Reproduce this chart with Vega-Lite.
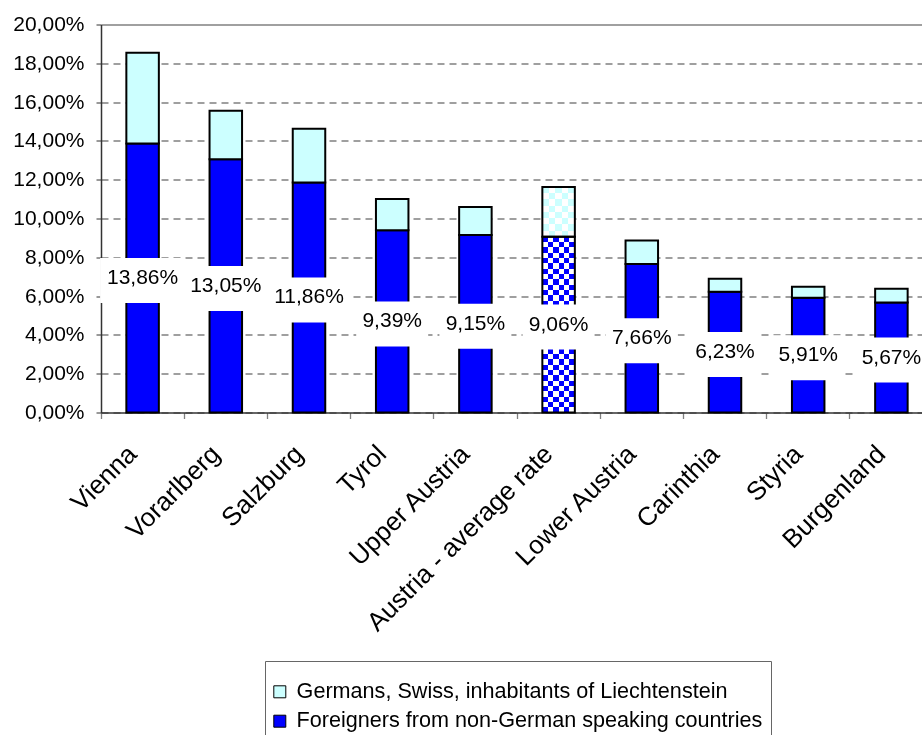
{
  "$schema": "https://vega.github.io/schema/vega-lite/v6.json",
  "width": 821,
  "height": 388,
  "autosize": "none",
  "padding": {"left": 101, "top": 24.5, "right": 0, "bottom": 322.5},
  "config": {
    "locale": {"number": {"decimal": ",", "thousands": ".", "grouping": [3], "currency": ["", " €"]}},
    "view": {"stroke": null},
    "font": "Liberation Sans"
  },
  "data": {
    "values": [
      {"region": "Vienna", "group": "Foreigners from non-German speaking countries", "value": 0.1386},
      {"region": "Vienna", "group": "Germans, Swiss, inhabitants of Liechtenstein", "value": 0.0469},
      {"region": "Vorarlberg", "group": "Foreigners from non-German speaking countries", "value": 0.1305},
      {"region": "Vorarlberg", "group": "Germans, Swiss, inhabitants of Liechtenstein", "value": 0.0251},
      {"region": "Salzburg", "group": "Foreigners from non-German speaking countries", "value": 0.1186},
      {"region": "Salzburg", "group": "Germans, Swiss, inhabitants of Liechtenstein", "value": 0.0277},
      {"region": "Tyrol", "group": "Foreigners from non-German speaking countries", "value": 0.0939},
      {"region": "Tyrol", "group": "Germans, Swiss, inhabitants of Liechtenstein", "value": 0.0161},
      {"region": "Upper Austria", "group": "Foreigners from non-German speaking countries", "value": 0.0915},
      {"region": "Upper Austria", "group": "Germans, Swiss, inhabitants of Liechtenstein", "value": 0.0144},
      {"region": "Austria - average rate", "group": "Foreigners from non-German speaking countries", "value": 0.0906},
      {"region": "Austria - average rate", "group": "Germans, Swiss, inhabitants of Liechtenstein", "value": 0.0256},
      {"region": "Lower Austria", "group": "Foreigners from non-German speaking countries", "value": 0.0766},
      {"region": "Lower Austria", "group": "Germans, Swiss, inhabitants of Liechtenstein", "value": 0.012},
      {"region": "Carinthia", "group": "Foreigners from non-German speaking countries", "value": 0.0623},
      {"region": "Carinthia", "group": "Germans, Swiss, inhabitants of Liechtenstein", "value": 0.0067},
      {"region": "Styria", "group": "Foreigners from non-German speaking countries", "value": 0.0591},
      {"region": "Styria", "group": "Germans, Swiss, inhabitants of Liechtenstein", "value": 0.0057},
      {"region": "Burgenland", "group": "Foreigners from non-German speaking countries", "value": 0.0567},
      {"region": "Burgenland", "group": "Germans, Swiss, inhabitants of Liechtenstein", "value": 0.0071}
    ]
  },
  "encoding": {
    "x": {
      "field": "region",
      "type": "nominal",
      "sort": null,
      "title": null,
      "scale": {
        "domain": ["Vienna", "Vorarlberg", "Salzburg", "Tyrol", "Upper Austria", "Austria - average rate", "Lower Austria", "Carinthia", "Styria", "Burgenland"],
        "range": [0, 832],
        "paddingInner": 0,
        "paddingOuter": 0
      },
      "axis": {
        "labelAngle": -45,
        "labelAlign": "right",
        "labelBaseline": "middle",
        "labelFontSize": 26,
        "labelFont": "Liberation Sans",
        "labelColor": "#000000",
        "labelPadding": 31,
        "labelOffset": -10,
        "labelOverlap": false,
        "labelLimit": 0,
        "tickSize": 6,
        "tickColor": "#808080",
        "tickWidth": 1.3,
        "bandPosition": 0,
        "domainColor": "#333333",
        "domainWidth": 1.5,
        "grid": false,
        "zindex": 0
      }
    }
  },
  "layer": [
    {
      "encoding": {
        "y": {
          "field": "value",
          "type": "quantitative",
          "stack": "zero",
          "title": null,
          "scale": {"domain": [0, 0.2], "nice": false},
          "axis": {
            "values": [0, 0.02, 0.04, 0.06, 0.08, 0.1, 0.12, 0.14, 0.16, 0.18, 0.2],
            "format": ".2%",
            "labelFontSize": 21,
            "labelFont": "Liberation Sans",
            "labelColor": "#000000",
            "labelPadding": 12,
            "tickSize": 5,
            "tickColor": "#333333",
            "domainColor": "#333333",
            "domainWidth": 1.5,
            "grid": true,
            "gridColor": "#808080",
            "gridWidth": 1.3,
            "gridDash": {"condition": {"test": "datum.value > 0.199", "value": []}, "value": [7, 5]},
            "zindex": 0
          }
        },
        "order": {"field": "group", "sort": "ascending"}
      },
      "layer": [
        {
          "transform": [{"filter": "datum.region !== 'Austria - average rate'"}],
          "mark": {"type": "bar", "width": 32.5, "stroke": "black", "strokeWidth": 2},
          "encoding": {
            "color": {
              "field": "group",
              "type": "nominal",
              "scale": {
                "domain": ["Germans, Swiss, inhabitants of Liechtenstein", "Foreigners from non-German speaking countries"],
                "range": ["#CCFFFF", "#0000FF"]
              },
              "legend": {
                "title": " ",
                "titleFontSize": 9,
                "titlePadding": 3,
                "orient": "none",
                "legendX": 164,
                "legendY": 636.5,
                "direction": "vertical",
                "padding": 8,
                "strokeColor": "#666666",
                "fillColor": "white",
                "symbolType": "square",
                "symbolSize": 144,
                "symbolOffset": -4,
                "symbolStrokeColor": "black",
                "symbolStrokeWidth": 1,
                "symbolOpacity": 1,
                "labelFontSize": 21.6,
                "labelFont": "Liberation Sans",
                "labelColor": "black",
                "labelOffset": 6,
                "labelLimit": 0,
                "rowPadding": 6.4
              }
            }
          }
        },
        {
          "transform": [{"filter": "datum.region === 'Austria - average rate'"}],
          "mark": {"type": "bar", "width": 32.5},
          "encoding": {
            "fill": {
              "condition": {
                "test": "datum.group === 'Germans, Swiss, inhabitants of Liechtenstein'",
                "value": {
                  "gradient": "linear", "x1": 0, "y1": 0, "x2": 0, "y2": 1,
                  "stops": [
                    {"offset": 0, "color": "#00ffff"}, {"offset": 0.125, "color": "#00ffff"},
                    {"offset": 0.125, "color": "#ffffff"}, {"offset": 0.25, "color": "#ffffff"},
                    {"offset": 0.25, "color": "#00ffff"}, {"offset": 0.375, "color": "#00ffff"},
                    {"offset": 0.375, "color": "#ffffff"}, {"offset": 0.5, "color": "#ffffff"},
                    {"offset": 0.5, "color": "#00ffff"}, {"offset": 0.625, "color": "#00ffff"},
                    {"offset": 0.625, "color": "#ffffff"}, {"offset": 0.75, "color": "#ffffff"},
                    {"offset": 0.75, "color": "#00ffff"}, {"offset": 0.875, "color": "#00ffff"},
                    {"offset": 0.875, "color": "#ffffff"}, {"offset": 1, "color": "#ffffff"}
                  ]
                }
              },
              "value": {
                "gradient": "linear", "x1": 0, "y1": 0, "x2": 0, "y2": 1,
                "stops": [
                  {"offset": 0, "color": "#0000ff"}, {"offset": 0.0303, "color": "#0000ff"},
                  {"offset": 0.0303, "color": "#ffffff"}, {"offset": 0.0606, "color": "#ffffff"},
                  {"offset": 0.0606, "color": "#0000ff"}, {"offset": 0.0909, "color": "#0000ff"},
                  {"offset": 0.0909, "color": "#ffffff"}, {"offset": 0.1212, "color": "#ffffff"},
                  {"offset": 0.1212, "color": "#0000ff"}, {"offset": 0.1515, "color": "#0000ff"},
                  {"offset": 0.1515, "color": "#ffffff"}, {"offset": 0.1818, "color": "#ffffff"},
                  {"offset": 0.1818, "color": "#0000ff"}, {"offset": 0.2121, "color": "#0000ff"},
                  {"offset": 0.2121, "color": "#ffffff"}, {"offset": 0.2424, "color": "#ffffff"},
                  {"offset": 0.2424, "color": "#0000ff"}, {"offset": 0.2727, "color": "#0000ff"},
                  {"offset": 0.2727, "color": "#ffffff"}, {"offset": 0.303, "color": "#ffffff"},
                  {"offset": 0.303, "color": "#0000ff"}, {"offset": 0.3333, "color": "#0000ff"},
                  {"offset": 0.3333, "color": "#ffffff"}, {"offset": 0.3636, "color": "#ffffff"},
                  {"offset": 0.3636, "color": "#0000ff"}, {"offset": 0.3939, "color": "#0000ff"},
                  {"offset": 0.3939, "color": "#ffffff"}, {"offset": 0.4242, "color": "#ffffff"},
                  {"offset": 0.4242, "color": "#0000ff"}, {"offset": 0.4545, "color": "#0000ff"},
                  {"offset": 0.4545, "color": "#ffffff"}, {"offset": 0.4848, "color": "#ffffff"},
                  {"offset": 0.4848, "color": "#0000ff"}, {"offset": 0.5152, "color": "#0000ff"},
                  {"offset": 0.5152, "color": "#ffffff"}, {"offset": 0.5455, "color": "#ffffff"},
                  {"offset": 0.5455, "color": "#0000ff"}, {"offset": 0.5758, "color": "#0000ff"},
                  {"offset": 0.5758, "color": "#ffffff"}, {"offset": 0.6061, "color": "#ffffff"},
                  {"offset": 0.6061, "color": "#0000ff"}, {"offset": 0.6364, "color": "#0000ff"},
                  {"offset": 0.6364, "color": "#ffffff"}, {"offset": 0.6667, "color": "#ffffff"},
                  {"offset": 0.6667, "color": "#0000ff"}, {"offset": 0.697, "color": "#0000ff"},
                  {"offset": 0.697, "color": "#ffffff"}, {"offset": 0.7273, "color": "#ffffff"},
                  {"offset": 0.7273, "color": "#0000ff"}, {"offset": 0.7576, "color": "#0000ff"},
                  {"offset": 0.7576, "color": "#ffffff"}, {"offset": 0.7879, "color": "#ffffff"},
                  {"offset": 0.7879, "color": "#0000ff"}, {"offset": 0.8182, "color": "#0000ff"},
                  {"offset": 0.8182, "color": "#ffffff"}, {"offset": 0.8485, "color": "#ffffff"},
                  {"offset": 0.8485, "color": "#0000ff"}, {"offset": 0.8788, "color": "#0000ff"},
                  {"offset": 0.8788, "color": "#ffffff"}, {"offset": 0.9091, "color": "#ffffff"},
                  {"offset": 0.9091, "color": "#0000ff"}, {"offset": 0.9394, "color": "#0000ff"},
                  {"offset": 0.9394, "color": "#ffffff"}, {"offset": 0.9697, "color": "#ffffff"},
                  {"offset": 0.9697, "color": "#0000ff"}, {"offset": 1, "color": "#0000ff"}
                ]
              }
            }
          }
        },
        {
          "transform": [{"filter": "datum.region === 'Austria - average rate'"}],
          "mark": {"type": "bar", "width": 32.5, "blend": "difference"},
          "encoding": {
            "fill": {
              "condition": {
                "test": "datum.group === 'Germans, Swiss, inhabitants of Liechtenstein'",
                "value": {
                  "gradient": "linear", "x1": 0, "y1": 0, "x2": 1, "y2": 0,
                  "stops": [
                    {"offset": 0, "color": "#000000"}, {"offset": 0.2, "color": "#000000"},
                    {"offset": 0.2, "color": "#ff0000"}, {"offset": 0.4, "color": "#ff0000"},
                    {"offset": 0.4, "color": "#000000"}, {"offset": 0.6, "color": "#000000"},
                    {"offset": 0.6, "color": "#ff0000"}, {"offset": 0.8, "color": "#ff0000"},
                    {"offset": 0.8, "color": "#000000"}, {"offset": 1, "color": "#000000"}
                  ]
                }
              },
              "value": {
                "gradient": "linear", "x1": 0, "y1": 0, "x2": 1, "y2": 0,
                "stops": [
                  {"offset": 0, "color": "#000000"}, {"offset": 0.1667, "color": "#000000"},
                  {"offset": 0.1667, "color": "#ffff00"}, {"offset": 0.3333, "color": "#ffff00"},
                  {"offset": 0.3333, "color": "#000000"}, {"offset": 0.5, "color": "#000000"},
                  {"offset": 0.5, "color": "#ffff00"}, {"offset": 0.6667, "color": "#ffff00"},
                  {"offset": 0.6667, "color": "#000000"}, {"offset": 0.8333, "color": "#000000"},
                  {"offset": 0.8333, "color": "#ffff00"}, {"offset": 1, "color": "#ffff00"}
                ]
              }
            }
          }
        },
        {
          "transform": [{"filter": "datum.region === 'Austria - average rate'"}],
          "mark": {"type": "bar", "width": 32.5, "blend": "lighten"},
          "encoding": {
            "fill": {
              "condition": {"test": "datum.group === 'Germans, Swiss, inhabitants of Liechtenstein'", "value": "#CCFFFF"},
              "value": "#000000"
            }
          }
        },
        {
          "transform": [{"filter": "datum.region === 'Austria - average rate'"}],
          "mark": {"type": "bar", "width": 32.5, "fillOpacity": 0, "stroke": "black", "strokeWidth": 2}
        }
      ]
    },
    {
      "transform": [{"filter": "datum.group === 'Foreigners from non-German speaking countries'"}],
      "encoding": {
        "y": {
          "field": "value",
          "type": "quantitative",
          "stack": null,
          "scale": {"domain": [0, 0.4], "nice": false},
          "axis": null
        }
      },
      "layer": [
        {
          "transform": [{"filter": "datum.value >= 0.1"}],
          "mark": {"type": "point", "shape": "M-1,-0.529H1V0.529H-1Z", "size": 7225, "filled": true, "fill": "white", "opacity": 1, "strokeWidth": 0, "yOffset": 2.5}
        },
        {
          "transform": [{"filter": "datum.value < 0.1"}],
          "mark": {"type": "point", "shape": "M-1,-0.625H1V0.625H-1Z", "size": 5184, "filled": true, "fill": "white", "opacity": 1, "strokeWidth": 0, "yOffset": 2.5}
        },
        {
          "mark": {"type": "text", "fontSize": 21, "font": "Liberation Sans", "color": "black", "baseline": "middle", "align": "center"},
          "encoding": {"text": {"field": "value", "type": "quantitative", "format": ".2%"}}
        }
      ]
    }
  ],
  "resolve": {"scale": {"y": "independent"}, "axis": {"y": "independent"}}
}
